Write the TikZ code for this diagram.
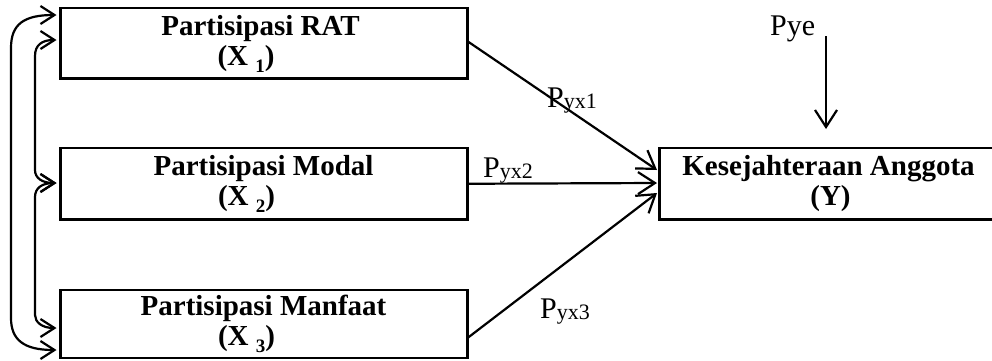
\documentclass[tikz,border=0pt]{standalone}
\usepackage{fontspec}
\setmainfont{Liberation Serif}
\usetikzlibrary{arrows.meta}
\newcommand\boxfont{\fontsize{29}{30}\selectfont\bfseries}
\newcommand\lblfont{\fontsize{30}{30}\selectfont}
\newcommand\lowsub[1]{\raisebox{-7pt}{\fontsize{19}{19}\selectfont #1}}
\newcommand\pyx[1]{P{\fontsize{22}{22}\selectfont\raisebox{-1pt}{#1}}}
\begin{document}
\begin{tikzpicture}[x=1pt,y=-1pt,
  box/.style={draw, line width=2.6pt, inner sep=0pt, outer sep=0pt},
  bt/.style={font=\boxfont, anchor=base, inner sep=0pt},
  lbl/.style={font=\lblfont, anchor=base west, inner sep=0pt},
  arr/.style={line width=2.2pt, -{Straight Barb[length=17pt,width=22pt]}},
  link/.style={line width=2.2pt, {Straight Barb[length=14pt,width=18pt]}-{Straight Barb[length=14pt,width=18pt]}},
]
\useasboundingbox (0,0) rectangle (992,360);
% boxes
\node[box, minimum width=407pt, minimum height=70.5pt] (b1) at (264,43.25) {};
\node[box, minimum width=407pt, minimum height=71.5pt] (b2) at (264,183.75) {};
\node[box, minimum width=407pt, minimum height=68pt] (b3) at (264,324) {};
\node[box, minimum width=334pt, minimum height=71.5pt] (yb) at (826.5,183.75) {};
% box texts
\node[bt] (t1a) at (260.5,35) {Partisipasi RAT};
\node[bt] (t1b) at (246,65) {(X \lowsub{1})};
\node[bt] (t2a) at (263.5,175) {Partisipasi Modal};
\node[bt] (t2b) at (246.5,205) {(X \lowsub{2})};
\node[bt] (t3a) at (263.5,315) {Partisipasi Manfaat};
\node[bt] (t3b) at (246.5,345) {(X \lowsub{3})};
\node[bt] (tya) at (828.5,175) {Kesejahteraan Anggota};
\node[bt] (tyb) at (830.5,205) {(Y)};
% labels
\node[lbl] (l1) at (547,107) {\pyx{yx1}};
\node[lbl] (l2) at (483,177) {\pyx{yx2}};
\node[lbl] (l3) at (540,318) {\pyx{yx3}};
\node[lbl] (pye) at (770,35) {Pye};
% connector points
\coordinate (s1) at ([yshift=2pt]b1.east);
\coordinate (s2) at (b2.east);
\coordinate (s3) at ([yshift=-14pt]b3.east);
\coordinate (e1) at ([xshift=-2.5pt,yshift=13.75pt]yb.west);
\coordinate (e2) at ([xshift=-2.5pt,yshift=0.75pt]yb.west);
\coordinate (e3) at ([xshift=-2.5pt,yshift=-9.25pt]yb.west);
\coordinate (ps) at (826,36);
\coordinate (pe) at ([xshift=-0.5pt,yshift=19pt]yb.north);
\draw[arr] (s1) -- (e1);
\draw[arr] (s2) -- (e2);
\draw[arr] (s3) -- (e3);
\draw[arr] (ps) -- (pe);
% left correlation links
\coordinate (o1) at ([xshift=-4pt,yshift=28.25pt]b1.west);
\coordinate (i1) at ([xshift=-4pt,yshift=3.25pt]b1.west);
\coordinate (i2) at ([xshift=-4pt,yshift=0.75pt]b2.west);
\coordinate (i3) at ([xshift=-4pt,yshift=-4pt]b3.west);
\coordinate (o3) at ([xshift=-4pt,yshift=-26pt]b3.west);
\draw[link] (o1) .. controls (24,15) and (11,24) .. (11,48) -- (11,318) .. controls (11,340) and (24,350) .. (o3);
\draw[link] (i1) .. controls (42,40) and (35,45) .. (35,56) -- (35,170) .. controls (35,178) and (42,183) .. (i2);
\draw[link] (i2) .. controls (42,183) and (35,188) .. (35,197) -- (35,315) .. controls (35,322) and (42,328) .. (i3);
\end{tikzpicture}
\end{document}
